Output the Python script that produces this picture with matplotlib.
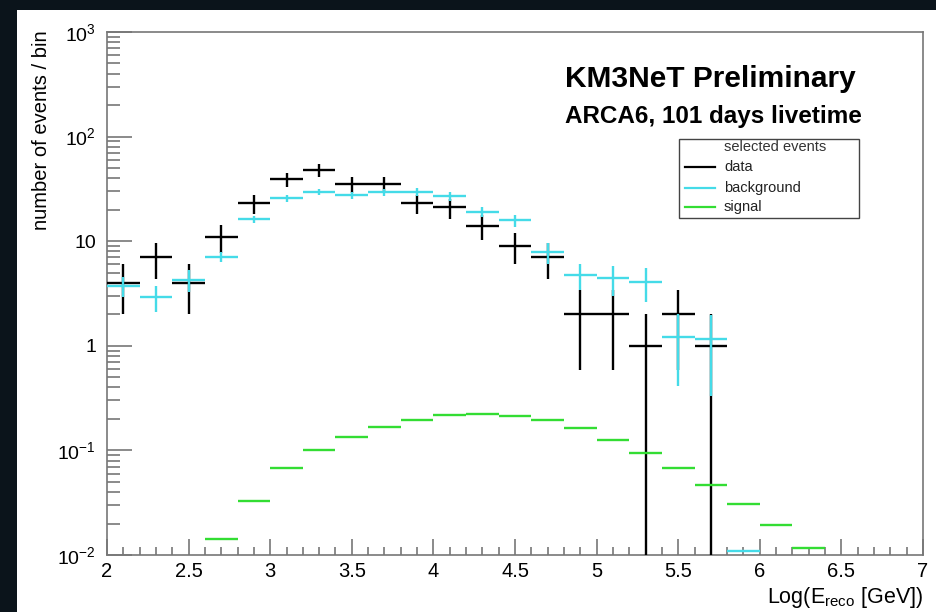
import matplotlib
matplotlib.use("Agg")
import matplotlib.pyplot as plt
from matplotlib.patches import Rectangle
from matplotlib.lines import Line2D
from matplotlib.ticker import FixedLocator, NullFormatter
import numpy as np

plt.rcParams['font.family'] = ['Liberation Sans', 'DejaVu Sans']
plt.rcParams['mathtext.fontset'] = 'custom'
plt.rcParams['mathtext.rm'] = 'Liberation Sans'
plt.rcParams['mathtext.it'] = 'Liberation Sans'

# bin centres, width 0.2 in Log(E)
data_x = [2.1, 2.3, 2.5, 2.7, 2.9, 3.1, 3.3, 3.5, 3.7, 3.9, 4.1, 4.3, 4.5, 4.7,
          4.9, 5.1, 5.3, 5.5, 5.7]
data_y = [4, 7, 4, 11, 23, 39, 48, 35, 35, 23, 21, 14, 9, 7, 2, 2, 1, 2, 1]

bkg_x = [2.1, 2.3, 2.5, 2.7, 2.9, 3.1, 3.3, 3.5, 3.7, 3.9, 4.1, 4.3, 4.5, 4.7,
         4.9, 5.1, 5.3, 5.5, 5.7, 5.9]
bkg_y = [3.75, 2.9, 4.3, 7.1, 16.3, 25.8, 29.5, 27.4, 29.5, 29.5, 26.8, 19.0,
         15.8, 7.8, 4.7, 4.4, 4.1, 1.21, 1.16, 0.011]
bkg_err = [0.8, 0.8, 1.0, 0.8, 1.3, 2.0, 2.0, 2.0, 2.4, 2.6, 2.8, 2.0, 2.1, 1.8,
           1.3, 1.4, 1.5, 0.8, 0.83, 0.0]

sig_x = [2.7, 2.9, 3.1, 3.3, 3.5, 3.7, 3.9, 4.1, 4.3, 4.5, 4.7, 4.9, 5.1, 5.3,
         5.5, 5.7, 5.9, 6.1, 6.3]
sig_y = [0.0143, 0.033, 0.068, 0.101, 0.135, 0.168, 0.196, 0.219, 0.224, 0.214,
         0.196, 0.164, 0.126, 0.095, 0.068, 0.047, 0.031, 0.0194, 0.0117]

bin_half = 0.1
ytick_vals = [1e-2, 1e-1, 1, 10, 1e2, 1e3]
ytick_labels = [r'$\mathregular{10^{-2}}$', r'$\mathregular{10^{-1}}$', '1', '10',
                r'$\mathregular{10^{2}}$', r'$\mathregular{10^{3}}$']

W, H = 937, 612
c_data = 'black'
c_bkg = '#45dbe8'
c_sig = '#33dd33'

fig = plt.figure(figsize=(W / 100, H / 100), dpi=100)
fig.patch.set_facecolor('#0b141b')
fig.patches.append(Rectangle((17 / W, 0), (W - 17) / W, (H - 10) / H,
                             transform=fig.transFigure, facecolor='white',
                             edgecolor='none', zorder=-1))

def fx(px):
    return px / W

def fy(py):
    return 1 - py / H

ax = fig.add_axes([fx(107), fy(555), (923 - 107) / W, (555 - 32) / H])
ax.set_facecolor('white')
ax.set_yscale('log')
ax.set_xlim(2, 7)
ax.set_ylim(1e-2, 1e3)

# data: poisson errors
dy = np.sqrt(np.array(data_y, dtype=float))
dlo = np.minimum(dy, np.array(data_y) - 1e-4)
ax.errorbar(data_x, data_y, xerr=bin_half, yerr=[dlo, dy], fmt='none',
            ecolor=c_data, elinewidth=1.7, capsize=0, zorder=3)

be = np.array(bkg_err)
blo = np.minimum(be, np.array(bkg_y) * 0.999)
ax.errorbar(bkg_x, bkg_y, xerr=bin_half, yerr=[blo, be], fmt='none',
            ecolor=c_bkg, elinewidth=1.7, capsize=0, zorder=4)

ax.errorbar(sig_x, sig_y, xerr=bin_half, fmt='none',
            ecolor=c_sig, elinewidth=1.7, capsize=0, zorder=5)

# axes style, ROOT like
for s in ax.spines.values():
    s.set_color('#777777')
    s.set_linewidth(1.2)

ax.yaxis.set_major_locator(FixedLocator(ytick_vals))
ax.set_yticklabels(ytick_labels)
minor_y = [m * 10.0 ** e for e in range(-2, 3) for m in range(2, 10)]
ax.yaxis.set_minor_locator(FixedLocator(minor_y))
ax.yaxis.set_minor_formatter(NullFormatter())
ax.set_xticks([2, 2.5, 3, 3.5, 4, 4.5, 5, 5.5, 6, 6.5, 7])
ax.set_xticklabels(['2', '2.5', '3', '3.5', '4', '4.5', '5', '5.5', '6', '6.5', '7'])
ax.xaxis.set_minor_locator(FixedLocator(np.arange(2.1, 7.0, 0.1)))

ax.tick_params(axis='y', which='major', direction='in', length=18, width=1.2,
               color='#777777', labelsize=14, pad=8, right=False)
ax.tick_params(axis='y', which='minor', direction='in', length=9.5, width=1.2,
               color='#777777', right=False)
ax.tick_params(axis='x', which='major', direction='in', length=11.5, width=1.2,
               color='#777777', labelsize=14.5, pad=5, top=False)
ax.tick_params(axis='x', which='minor', direction='in', length=5.8, width=1.2,
               color='#777777', top=False)

fig.text(fx(42), fy(30), 'number of events / bin', rotation=90, ha='center',
         va='top', fontsize=14.5)
fig.text(fx(923), fy(603), r'Log(E$_{\mathregular{reco}}$ [GeV])', ha='right',
         va='baseline', fontsize=15.5)

fig.text(fx(565), fy(87), 'KM3NeT Preliminary', fontsize=21.5,
         fontweight='bold', va='baseline')
fig.text(fx(565), fy(123), 'ARCA6, 101 days livetime', fontsize=17.5,
         fontweight='bold', va='baseline')

# legend box
fig.patches.append(Rectangle((fx(679), fy(218)), (859 - 679) / W, (218 - 139) / H,
                             transform=fig.transFigure, facecolor='white',
                             edgecolor='#444444', linewidth=1.0, zorder=6))
fig.text(fx(724), fy(147), 'selected events', fontsize=10.5, va='center',
         color='#333333', zorder=7)
for col, lab, yy in [(c_data, 'data', 167), (c_bkg, 'background', 188),
                     (c_sig, 'signal', 207)]:
    fig.add_artist(Line2D([fx(685), fx(715)], [fy(yy), fy(yy)], color=col,
                          linewidth=1.6, transform=fig.transFigure, zorder=7))
    fig.text(fx(724), fy(yy), lab, fontsize=10.5, va='center', color='#222222',
             zorder=7)

fig.savefig('out.png', dpi=100, facecolor=fig.get_facecolor())
